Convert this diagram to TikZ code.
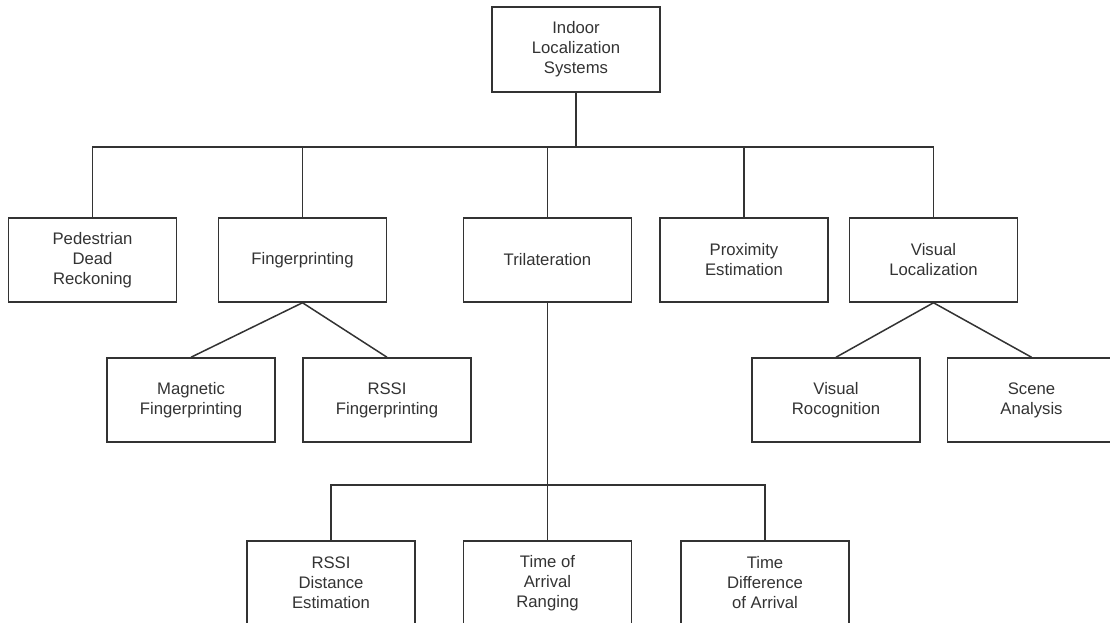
\documentclass[tikz,border=0pt]{standalone}
\usepackage{fontspec}
\setmainfont{Liberation Sans}
\usepackage{xcolor}
\definecolor{lineGrey}{HTML}{333333}

\begin{document}
\begin{tikzpicture}[x=1pt,y=-1pt,
  catbox/.style={draw=lineGrey,line width=1.5pt,fill=white,minimum width=168pt,minimum height=84pt,inner sep=2pt,align=center,text=lineGrey,font=\fontsize{16.7}{20}\selectfont},
  link/.style={lineGrey,line width=1.5pt}]
  \useasboundingbox (0,0) rectangle (1110,623);
  % root
  \node[catbox,minimum height=85pt] (ils) at (576,49.5) {Indoor\\Localization\\Systems};
  % first level
  \node[catbox] (pdr) at (92.5,260) {Pedestrian\\Dead\\Reckoning};
  \node[catbox] (fing) at (302.5,260) {Fingerprinting};
  \node[catbox] (tri) at (547.5,260) {Trilateration};
  \node[catbox] (prox) at (744,260) {Proximity\\Estimation};
  \node[catbox] (visloc) at (933.5,260) {Visual\\Localization};
  % second level
  \node[catbox] (magfp) at (191,400) {Magnetic\\Fingerprinting};
  \node[catbox] (rssifp) at (387,400) {RSSI\\Fingerprinting};
  \node[catbox] (visrec) at (836,400) {Visual\\Rocognition};
  \node[catbox] (scene) at (1031.5,400) {Scene\\Analysis};
  % trilateration methods
  \node[catbox] (rssidist) at (331,583) {RSSI\\Distance\\Estimation};
  \node[catbox] (toa) at (547.5,583) {Time of\\Arrival\\Ranging};
  \node[catbox] (tdoa) at (765,583) {Time\\Difference\\of Arrival};
  % buses
  \coordinate (bus1) at (576,147);
  \coordinate (bus2) at (547.5,485);
  \draw[link] (ils) -- (bus1);
  \draw[link] (bus1) -| (pdr);
  \draw[link] (bus1) -| (fing);
  \draw[link] (bus1) -| (tri);
  \draw[link] (bus1) -| (prox);
  \draw[link] (bus1) -| (visloc);
  \draw[link] (fing.south) -- (magfp.north);
  \draw[link] (fing.south) -- (rssifp.north);
  \draw[link] (visloc.south) -- (visrec.north);
  \draw[link] (visloc.south) -- (scene.north);
  \draw[link] (tri) -- (bus2);
  \draw[link] (bus2) -| (rssidist);
  \draw[link] (bus2) -- (toa);
  \draw[link] (bus2) -| (tdoa);
\end{tikzpicture}
\end{document}
